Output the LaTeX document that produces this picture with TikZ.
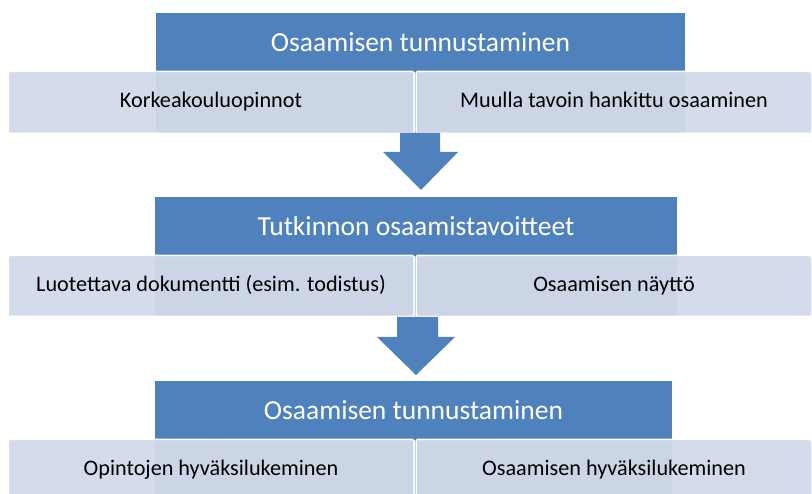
\documentclass[tikz,border=0pt]{standalone}
\usepackage{fontspec}
\setmainfont{Carlito}
\begin{document}
\begin{tikzpicture}[x=1pt,y=-1pt,
  hdr/.style={fill=hdrblue,draw=none,inner sep=0pt,anchor=center,text=white,font=\fontsize{27.5}{30}\selectfont},
  cell/.style={fill=cellblue,fill opacity=0.95,text opacity=1,draw=white,draw opacity=1,line width=1.5pt,rounded corners=1.5pt,inner sep=0pt,text=black,text height=15pt,text depth=4pt,font=\fontsize{22.2}{26}\selectfont},
  blockarrow/.style={fill=hdrblue,draw=none}]
\definecolor{hdrblue}{RGB}{79,129,189}
\definecolor{cellblue}{RGB}{210,218,233}
\useasboundingbox (0,0) rectangle (812,494);
\fill[white] (0,0) rectangle (812,494);
% level 1
\node[hdr,minimum width=529pt,minimum height=59pt] (h1) at (420.5,42.5) {Osaamisen tunnustaminen};
\fill[hdrblue] (h1.south west) rectangle ++(529,61);
\node[cell,minimum width=406pt,minimum height=62pt] (c1a) at (211,102.5) {Korkeakouluopinnot};
\node[cell,minimum width=396pt,minimum height=62pt] (c1b) at (614,102.5) {Muulla tavoin hankittu osaaminen};
% arrow 1
\fill[blockarrow] (400,133) -- (440,133) -- (440,152) -- (458,152) -- (421,190) -- (383,152) -- (400,152) -- cycle;
% level 2
\node[hdr,minimum width=522pt,minimum height=59pt] (h2) at (416,226.5) {Tutkinnon osaamistavoitteet};
\fill[hdrblue] (h2.south west) rectangle ++(522,60);
\node[cell,minimum width=406pt,minimum height=61pt] (c2a) at (211,286) {Luotettava dokumentti (esim. todistus)};
\node[cell,minimum width=396pt,minimum height=61pt] (c2b) at (614,286) {Osaamisen näyttö};
% arrow 2
\fill[blockarrow] (397,317) -- (438,317) -- (438,337) -- (455,337) -- (416,375) -- (377,337) -- (397,337) -- cycle;
% level 3
\node[hdr,minimum width=517pt,minimum height=58pt] (h3) at (413.5,410) {Osaamisen tunnustaminen};
\fill[hdrblue] (h3.south west) rectangle ++(517,60);
\node[cell,minimum width=406pt,minimum height=61pt] (c3a) at (211,470) {Opintojen hyväksilukeminen};
\node[cell,minimum width=396pt,minimum height=61pt] (c3b) at (614,470) {Osaamisen hyväksilukeminen};
\end{tikzpicture}
\end{document}
